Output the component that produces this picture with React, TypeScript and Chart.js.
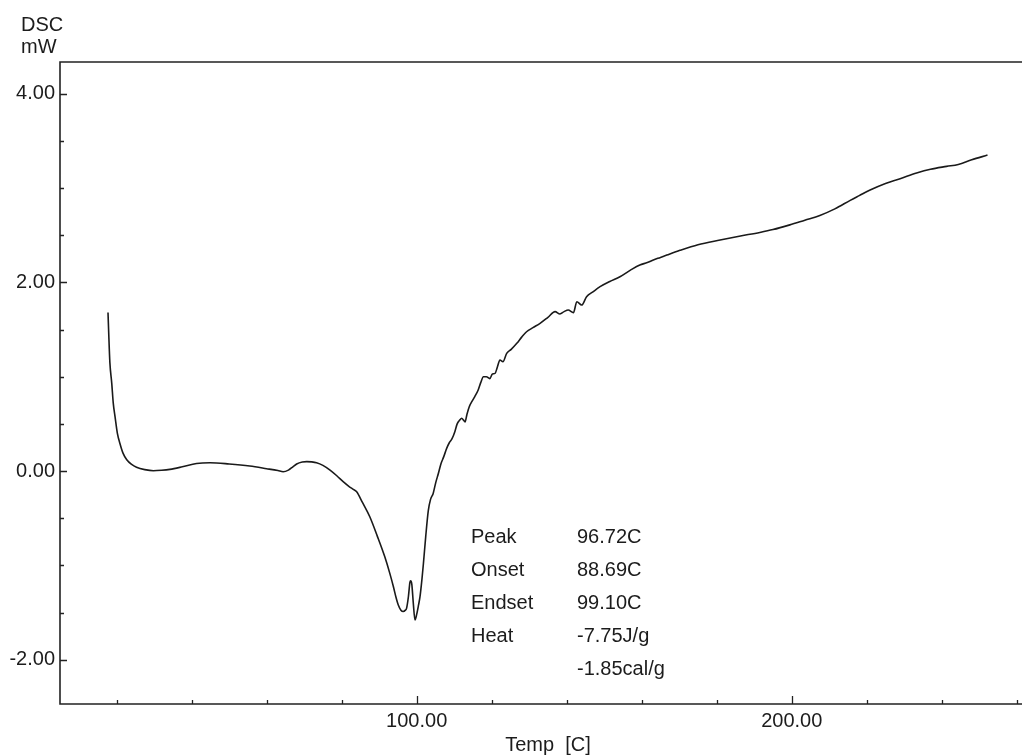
import React, { useEffect, useRef } from 'react';
import { Chart, registerables } from 'chart.js';

Chart.register(...registerables);

// DSC curve: temperature (C) and heat flow (mW)
const temps = [
  17.7, 17.9, 18.2, 18.7, 19.1, 19.6, 20.2, 20.9, 21.7, 22.7, 24.0, 25.3, 27.5, 29.8, 32.0, 34.2,
  37.5, 41.3, 44.9, 50.0, 55.5, 60.0, 63.0, 64.4, 65.8, 67.0, 68.0, 69.5, 70.7, 72.0, 73.3, 75.0,
  76.9, 78.7, 80.4, 82.0, 83.1, 84.0, 85.5, 87.5, 89.5, 91.5, 92.8, 93.8, 94.5, 95.1, 95.8, 96.4,
  97.0, 97.3, 97.8, 98.2, 98.4, 98.7, 99.1, 99.55, 100.0, 100.5, 100.9, 101.4, 101.8, 102.4, 103.1,
  103.7, 104.4, 105.1, 105.8, 106.5, 107.2, 108.0, 108.7, 109.4, 110.2, 110.8, 111.5, 112.0, 112.5,
  112.9, 113.4, 114.0, 114.7, 115.5, 116.4, 117.1, 117.8, 118.6, 119.5, 120.2, 120.9, 121.5, 122.2,
  123.0, 124.0, 125.2, 126.7, 128.0, 129.3, 131.0, 132.9, 135.0, 136.9, 138.2, 139.3, 140.4, 141.8,
  142.7, 144.0, 145.3, 147.0, 148.9, 151.5, 154.2, 157.0, 159.5, 161.5, 163.1, 165.0, 166.7, 170.2,
  175.0, 180.9, 186.0, 191.5, 195.0, 199.5, 203.5, 207.5, 211.5, 215.6, 218.0, 220.9, 225.0, 228.9,
  233.3, 237.0, 241.3, 244.4, 248.0, 252.2,
];
const dsc = [
  1.68, 1.45, 1.15, 0.93, 0.72, 0.57, 0.40, 0.29, 0.19, 0.12, 0.07, 0.04, 0.015, 0.003, 0.008, 0.018,
  0.045, 0.08, 0.088, 0.075, 0.053, 0.025, 0.005, -0.007, 0.01, 0.045, 0.074, 0.095, 0.1, 0.097, 0.088, 0.06,
  0.01, -0.05, -0.113, -0.165, -0.194, -0.22, -0.33, -0.485, -0.69, -0.91, -1.08, -1.227, -1.34, -1.42, -1.475, -1.49,
  -1.475, -1.456, -1.33, -1.18, -1.163, -1.2, -1.4, -1.58, -1.52, -1.42, -1.33, -1.15, -0.98, -0.7, -0.42,
  -0.3, -0.237, -0.12, -0.024, 0.08, 0.15, 0.24, 0.3, 0.34, 0.42, 0.5, 0.54, 0.56, 0.54,
  0.52, 0.6, 0.68, 0.735, 0.79, 0.86, 0.94, 1.0, 1.0, 0.98, 1.03, 1.036, 1.1, 1.177,
  1.16, 1.248, 1.29, 1.354, 1.42, 1.477, 1.52, 1.566, 1.63, 1.69, 1.665, 1.69, 1.707, 1.679,
  1.795, 1.76, 1.848, 1.9, 1.955, 2.01, 2.06, 2.13, 2.185, 2.21, 2.238, 2.265, 2.29, 2.34,
  2.4, 2.45, 2.49, 2.53, 2.56, 2.61, 2.66, 2.71, 2.78, 2.87, 2.92, 2.98, 3.05, 3.1,
  3.16, 3.2, 3.23, 3.25, 3.3, 3.35,
];

const xTickValues = [20, 40, 60, 80, 100, 120, 140, 160, 180, 200, 220, 240, 260];
const xLabeledTicks = [100, 200];
const yTickValues = [-2, -1.5, -1, -0.5, 0, 0.5, 1, 1.5, 2, 2.5, 3, 3.5, 4];
const yLabeledTicks = [-2, 0, 2, 4];

const yTitleLines = ['DSC', 'mW'];
const xTitle = 'Temp  [C]';
const resultLabels = ['Peak', 'Onset', 'Endset', 'Heat', ''];
const resultValues = ['96.72C', '88.69C', '99.10C', '-7.75J/g', '-1.85cal/g'];

const FONT = '"Liberation Sans", Arial, Helvetica, sans-serif';
const INK = '#1c1c1c';

const dscPlugin = {
  id: 'dscDecor',
  afterDraw(chart: any) {
    const { ctx, chartArea } = chart;
    const xs = chart.scales.x;
    const ys = chart.scales.y;
    const { left, right, top, bottom } = chartArea;
    ctx.save();
    // frame (top, left, bottom)
    ctx.strokeStyle = '#222';
    ctx.lineWidth = 1.6;
    ctx.beginPath();
    ctx.moveTo(right + 2, top);
    ctx.lineTo(left, top);
    ctx.lineTo(left, bottom);
    ctx.lineTo(right + 2, bottom);
    ctx.stroke();
    // inward tick marks
    ctx.lineWidth = 1.3;
    ctx.beginPath();
    xs.ticks.forEach((t: any) => {
      const px = Math.round(xs.getPixelForValue(t.value)) + 0.5;
      const len = xLabeledTicks.includes(t.value) ? 8 : 4;
      ctx.moveTo(px, bottom);
      ctx.lineTo(px, bottom - len);
    });
    ys.ticks.forEach((t: any) => {
      const py = Math.round(ys.getPixelForValue(t.value)) + 0.5;
      const len = yLabeledTicks.includes(t.value) ? 7 : 4;
      ctx.moveTo(left, py);
      ctx.lineTo(left + len, py);
    });
    ctx.stroke();
    // texts
    ctx.fillStyle = INK;
    ctx.font = `20px ${FONT}`;
    ctx.textBaseline = 'alphabetic';
    ctx.textAlign = 'left';
    ctx.fillText(yTitleLines[0], 21, 31);
    ctx.fillText(yTitleLines[1], 21, 53);
    ctx.textAlign = 'center';
    ctx.fillText(xTitle, 548, 751);
    ctx.textAlign = 'left';
    resultLabels.forEach((lab, i) => {
      const y = 543 + i * 33;
      if (lab) ctx.fillText(lab, 471, y);
      ctx.fillText(resultValues[i], 577, y);
    });
    ctx.restore();
  },
};

export default function App() {
  const ref = useRef<HTMLCanvasElement>(null);
  useEffect(() => {
    const canvas = ref.current;
    if (!canvas) return;
    const chart = new Chart(canvas, {
      type: 'line',
      data: {
        datasets: [
          {
            data: temps.map((t, i) => ({ x: t, y: dsc[i] })),
            borderColor: '#1a1a1a',
            borderWidth: 1.6,
            pointRadius: 0,
            fill: false,
            cubicInterpolationMode: 'monotone',
          },
        ],
      },
      options: {
        animation: false,
        responsive: false,
        maintainAspectRatio: false,
        layout: { padding: { top: 62, left: 0, right: 0, bottom: 0 } },
        plugins: { legend: { display: false }, tooltip: { enabled: false }, title: { display: false } },
        scales: {
          x: {
            type: 'linear',
            min: 4.9,
            max: 261.4,
            grid: { display: false, drawTicks: false },
            border: { display: false },
            afterBuildTicks: (scale: any) => {
              scale.ticks = xTickValues.map((v) => ({ value: v }));
            },
            afterFit: (scale: any) => {
              scale.height = 51;
            },
            ticks: {
              autoSkip: false,
              maxRotation: 0,
              padding: 5,
              color: INK,
              font: { family: FONT, size: 20 },
              callback: (v: any) => (xLabeledTicks.includes(Number(v)) ? Number(v).toFixed(2) : ''),
            },
          },
          y: {
            type: 'linear',
            min: -2.47,
            max: 4.337,
            grid: { display: false, drawTicks: false },
            border: { display: false },
            afterBuildTicks: (scale: any) => {
              scale.ticks = yTickValues.map((v) => ({ value: v }));
            },
            afterFit: (scale: any) => {
              scale.width = 60;
            },
            ticks: {
              autoSkip: false,
              padding: 5,
              color: INK,
              font: { family: FONT, size: 20 },
              callback: (v: any) => (yLabeledTicks.includes(Number(v)) ? Number(v).toFixed(2) : ''),
            },
          },
        },
      },
      plugins: [dscPlugin],
    } as any);
    return () => chart.destroy();
  }, []);
  return (
    <div style={{ position: 'fixed', left: 0, top: 0, width: 1022, height: 755, background: '#fff' }}>
      <canvas ref={ref} width={1022} height={755} style={{ width: 1022, height: 755, display: 'block' }} />
    </div>
  );
}
